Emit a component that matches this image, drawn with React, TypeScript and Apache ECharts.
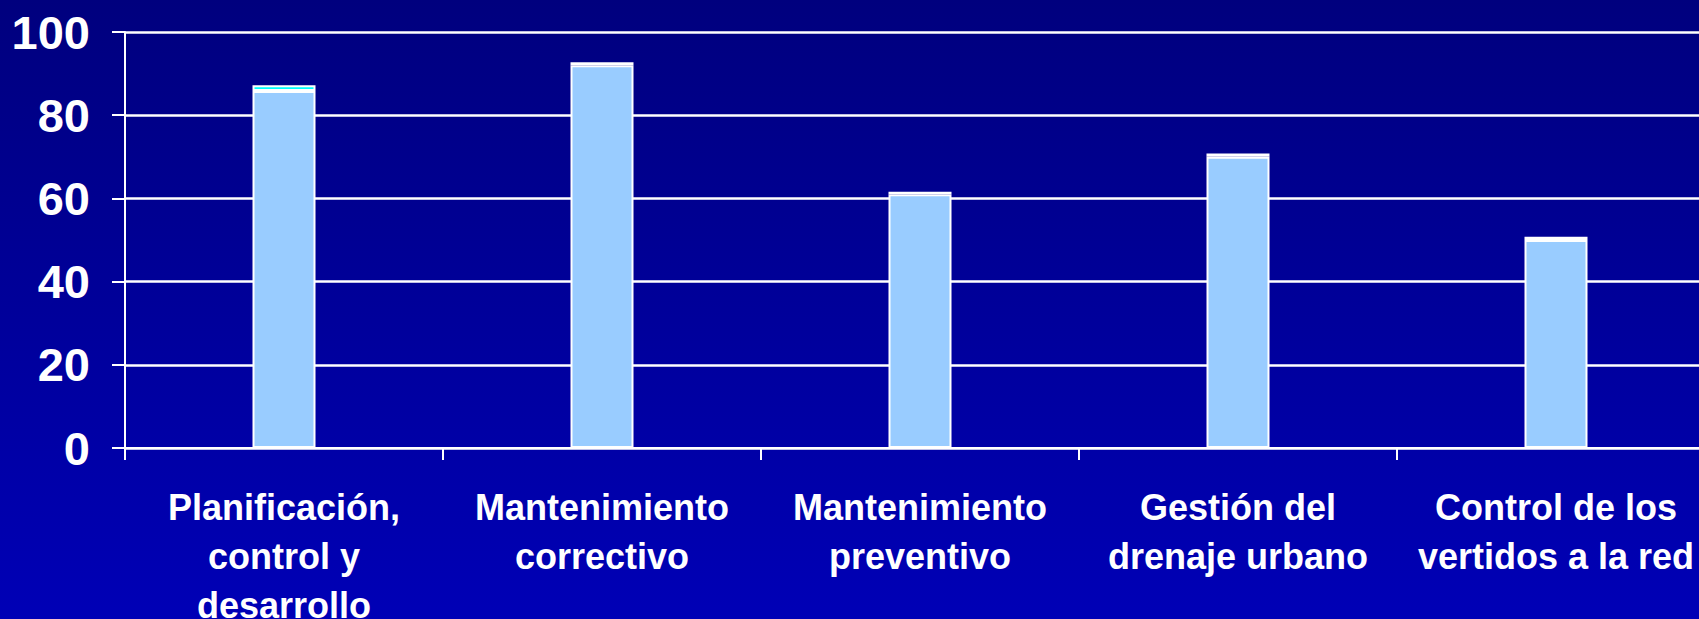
import React, { useEffect, useRef } from "react";
import * as echarts from "echarts";

const categories = [
  "Planificación,\ncontrol y\ndesarrollo",
  "Mantenimiento\ncorrectivo",
  "Mantenimiento\npreventivo",
  "Gestión del\ndrenaje urbano",
  "Control de los\nvertidos a la red",
];
const mainValues = [85.8, 92, 61, 70, 50];
const capValues = [1.4, 0.7, 0.6, 0.8, 0.8];
const capColors = ["#00FFFF", "#FFFFFF", "#FFFFFF", "#FFFFFF", "#FFFFFF"];
const yTicks = { min: 0, max: 100, interval: 20 };

const FONT = "'Liberation Sans', Arial, Helvetica, sans-serif";

export default function App() {
  const ref = useRef<HTMLDivElement>(null);
  useEffect(() => {
    if (!ref.current) return;
    const chart = echarts.init(ref.current, undefined, { renderer: "svg" });
    chart.setOption({
      animation: false,
      backgroundColor: new echarts.graphic.LinearGradient(0, 0, 0, 1, [
        { offset: 0, color: "#00007E" },
        { offset: 1, color: "#0000B6" },
      ]),
      grid: {
        left: 125,
        top: 32,
        bottom: 171,
        right: -16,
        containLabel: false,
        outerBoundsMode: "none",
      },
      xAxis: {
        type: "category",
        data: categories,
        axisLine: { show: true, lineStyle: { color: "#FFFFFF", width: 2 } },
        axisTick: { show: true, length: 12, lineStyle: { color: "#FFFFFF", width: 2 } },
        axisLabel: {
          interval: 0,
          color: "#FFFFFF",
          fontFamily: FONT,
          fontWeight: "bold",
          fontSize: 36,
          lineHeight: 49,
          margin: 35,
          align: "center",
        },
        splitLine: { show: false },
      },
      yAxis: {
        type: "value",
        min: yTicks.min,
        max: yTicks.max,
        interval: yTicks.interval,
        axisLine: { show: true, lineStyle: { color: "#FFFFFF", width: 2 } },
        axisTick: { show: true, length: 13, lineStyle: { color: "#FFFFFF", width: 2 } },
        axisLabel: {
          color: "#FFFFFF",
          fontFamily: FONT,
          fontWeight: "bold",
          fontSize: 47,
          margin: 35,
        },
        splitLine: { show: true, lineStyle: { color: "#FFFFFF", width: 2.5 } },
      },
      series: [
        {
          type: "bar",
          stack: "total",
          data: mainValues,
          barWidth: 63,
          itemStyle: { color: "#99CCFF", borderColor: "#FFFFFF", borderWidth: 2 },
        },
        {
          type: "bar",
          stack: "total",
          data: capValues.map((v, i) => ({ value: v, itemStyle: { color: capColors[i] } })),
          barWidth: 63,
          itemStyle: { borderColor: "#FFFFFF", borderWidth: 2 },
        },
      ],
    });
    return () => chart.dispose();
  }, []);
  return (
    <div
      ref={ref}
      style={{ position: "fixed", left: 0, top: 0, width: 1699, height: 619 }}
    />
  );
}
